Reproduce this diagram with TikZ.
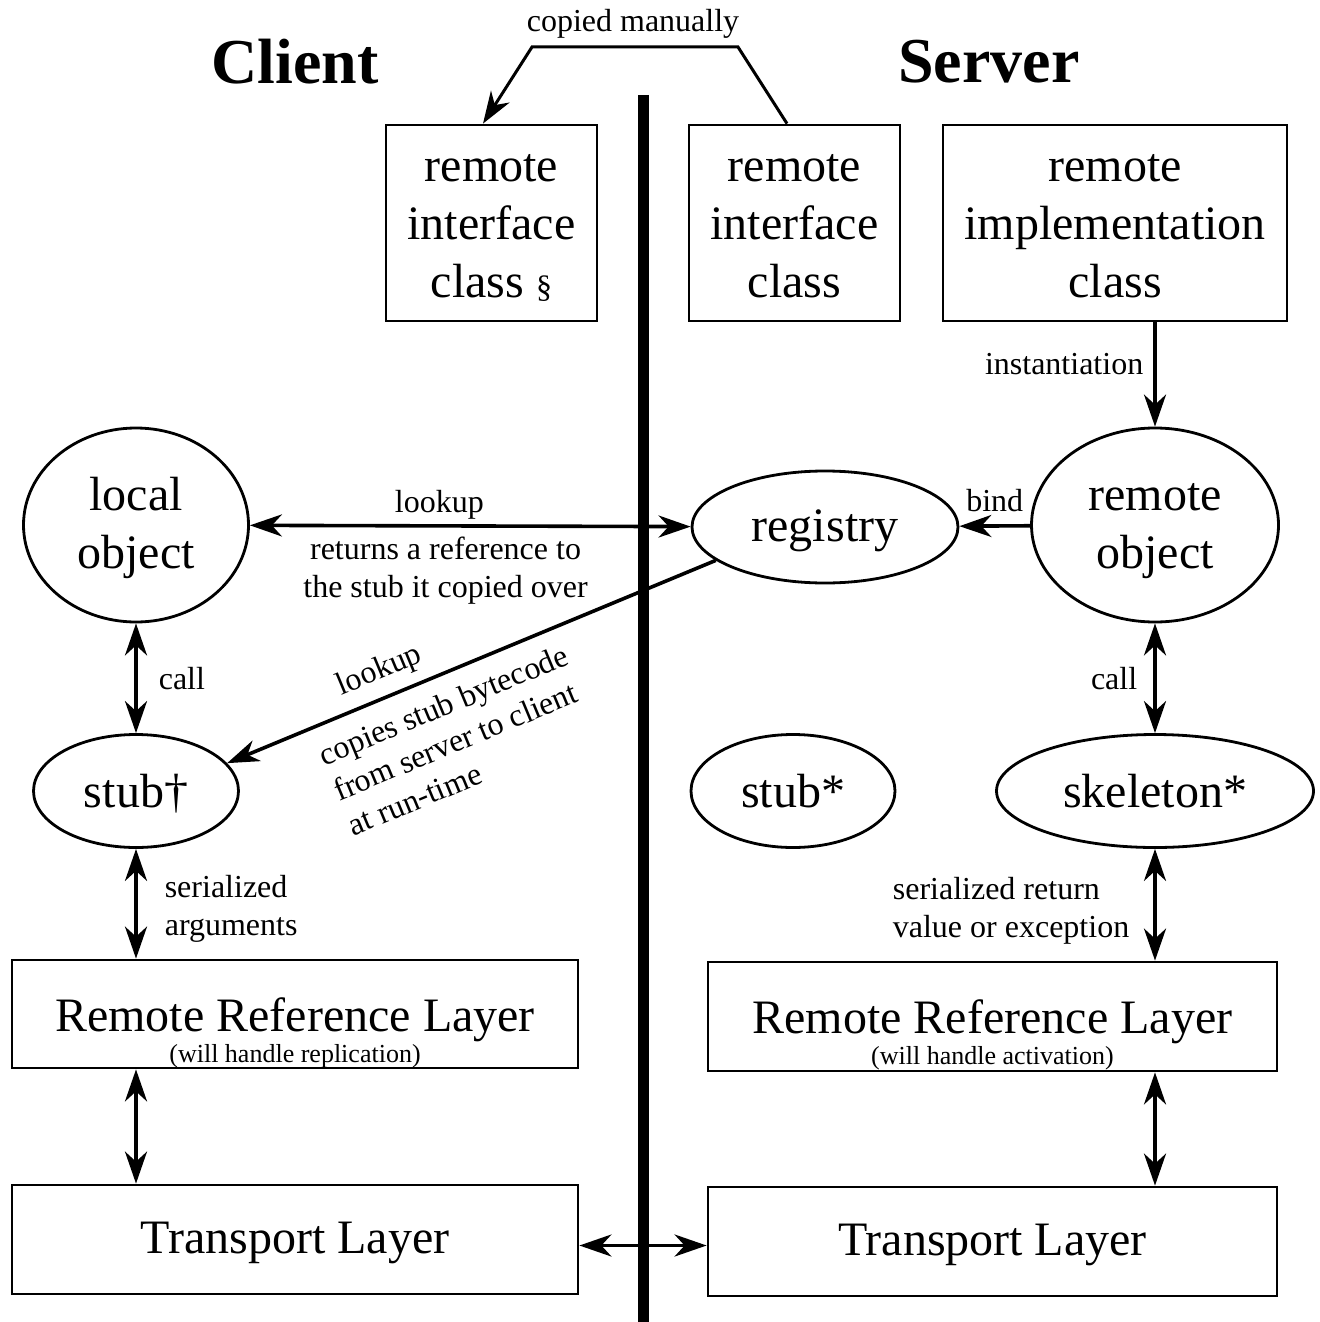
\documentclass[tikz,border=0pt]{standalone}
\usepackage{fontspec}
\setmainfont{Liberation Serif}
\usetikzlibrary{shapes.geometric,arrows.meta,positioning}

\newcommand{\bigtxt}{\fontsize{24}{29}\selectfont}
\newcommand{\smalltxt}{\fontsize{16}{19}\selectfont}
\newcommand{\tinytxt}{\fontsize{13}{15}\selectfont}
\newcommand{\tstrut}{\rule[-3.5pt]{0pt}{23pt}}

\tikzset{
  layer/.style={draw, rectangle, line width=1.4pt, inner sep=0pt, align=center, font=\bigtxt},
  blob/.style={draw, ellipse, line width=1.4pt, inner sep=0pt, align=center, font=\bigtxt},
  lbl/.style={font=\smalltxt, align=left, inner sep=3pt},
  conn/.style={line width=1.8pt},
}

\begin{document}
\begin{tikzpicture}[x=0.5pt, y=-0.5pt, >={Stealth[length=16pt,width=11pt,inset=5pt]}]
		\useasboundingbox (0,0) rectangle (1319,1322);
		% divider between the two sides
		\coordinate (divtop) at (643.5,95);
		\coordinate (divbot) at (643.5,1322);
		\draw[line width=5.5pt] (divtop) -- (divbot);
		\node[font=\fontsize{32}{38}\selectfont\bfseries] (client) at (295,62) {Client};
		\node[font=\fontsize{32}{38}\selectfont\bfseries] (server) at (989,62) {Server};
		% class files
		\node[layer, minimum width=105.5pt, minimum height=98pt] (ifc) at (491.5,223) {\tstrut remote\\interface\\class {\smalltxt\S}\tstrut};
		\node[layer, minimum width=105.5pt, minimum height=98pt] (ifs) at (794.5,223) {\tstrut remote\\interface\\class\tstrut};
		\node[layer, minimum width=172pt, minimum height=98pt] (impl) at (1115,223) {\tstrut remote\\implementation\\class\tstrut};
		\node[lbl] (copied) at (633,24) {copied manually};
		\coordinate (cmr) at (738,47);
		\coordinate (cml) at (532,47);
		\draw[line width=1.5pt, ->] ([xshift=-3.75pt]ifs.north) -- (cmr) -- (cml) -- ([xshift=-4.25pt]ifc.north);
		% objects
		\node[blob, minimum width=112.5pt, minimum height=97pt] (lobj) at (136,525) {\tstrut local\\object\tstrut};
		\node[blob, minimum width=133pt, minimum height=56pt] (reg) at (825,527) {\tstrut registry};
		\node[blob, minimum width=123.5pt, minimum height=97pt] (robj) at (1155,525) {\tstrut remote\\object\tstrut};
		\node[blob, minimum width=102.5pt, minimum height=56.5pt] (stubc) at (136,791) {\tstrut stub\textdagger};
		\node[blob, minimum width=102pt, minimum height=56.5pt] (stubs) at (793,791) {\tstrut stub*};
		\node[blob, minimum width=158.5pt, minimum height=56.5pt] (skel) at (1155,791) {\tstrut skeleton*};
		% layers
		\node[layer, minimum width=283pt, minimum height=54pt] (rrlc) at (295,1014) {\rule{0pt}{35.5pt}Remote Reference Layer\\[-13.5pt]{\tinytxt(will handle replication)}};
		\node[layer, minimum width=284.5pt, minimum height=54.5pt] (rrls) at (992.5,1016.5) {\rule{0pt}{35.5pt}Remote Reference Layer\\[-13.5pt]{\tinytxt(will handle activation)}};
		\node[layer, minimum width=283pt, minimum height=54.5pt] (tlc) at (295,1239.5) {\tstrut Transport Layer};
		\node[layer, minimum width=284.5pt, minimum height=54.5pt] (tls) at (992.5,1241.5) {\tstrut Transport Layer};
		% connectors
		\draw[conn, <->] (lobj) -- (reg) node[lbl, pos=0.43, above=-0.5pt] (lk1) {lookup} node[lbl, pos=0.444, below=1.5pt, align=center] (ret) {returns a reference to\\the stub it copied over};
		\draw[conn, ->] (robj) -- (reg) node[lbl, midway, above=3pt] (bind) {bind};
		\draw[conn, ->] (impl.south -| robj.north) -- (robj.north) node[lbl, midway, left=2pt, yshift=5pt] (inst) {instantiation};
		\draw[conn, ->] (reg.197) -- (stubc.17) node[lbl, pos=0.667, rotate=22.6, anchor=south, inner sep=5pt] (lk2) {lookup} node[lbl, pos=0.58, rotate=22.6, anchor=north, inner sep=8pt] (copies) {copies stub bytecode\\from server to client\\at run-time};
		\draw[conn, <->] (lobj) -- (stubc) node[lbl, midway, right=7.5pt] (call1) {call};
		\draw[conn, <->] (robj) -- (skel) node[lbl, midway, left=5pt] (call2) {call};
		\draw[conn, <->] (stubc.south) -- (stubc.south |- rrlc.north) node[lbl, midway, right=10.5pt, yshift=-2.5pt] (ser1) {serialized\\arguments};
		\draw[conn, <->] (skel.south) -- (skel.south |- rrls.north) node[lbl, midway, left=9pt, yshift=-3pt] (ser2) {serialized return\\value or exception};
		\draw[conn, <->] (rrlc.south -| stubc) -- (tlc.north -| stubc);
		\draw[conn, <->] (rrls.south -| skel) -- (tls.north -| skel);
		\draw[conn, <->] ([yshift=-3pt]tlc.east) -- ([yshift=-3pt]tlc.east -| tls.west);
\end{tikzpicture}
\end{document}
